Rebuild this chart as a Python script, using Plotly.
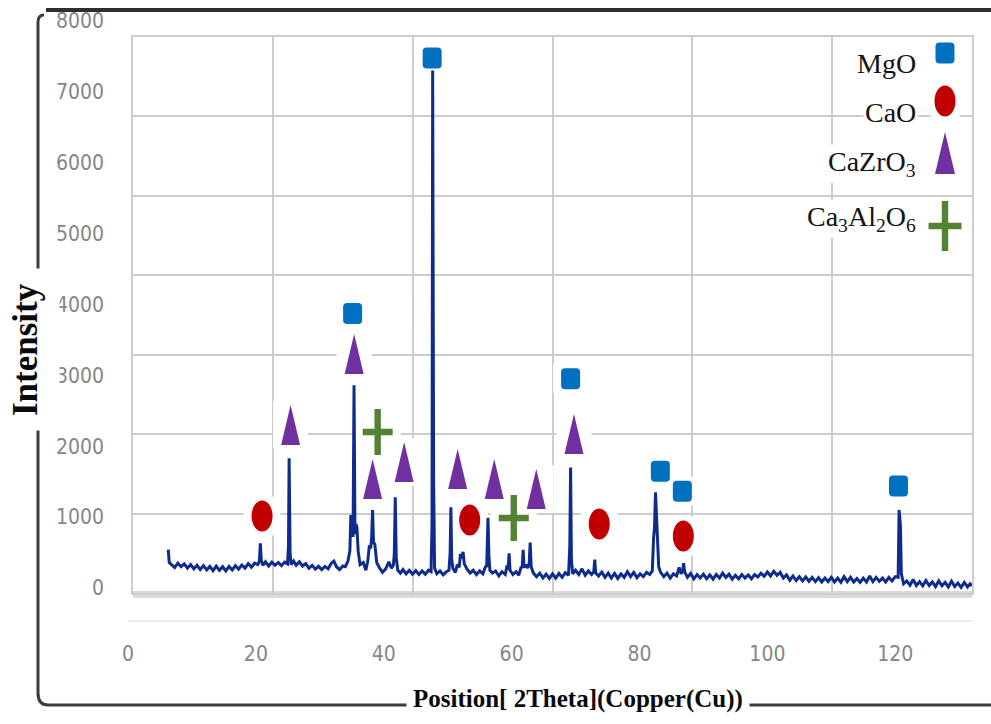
import plotly.graph_objects as go

# ------------------------------------------------------------------ data
# (2-theta, intensity)
scan_points = [
    (6.3, 540), (6.45, 360), (6.8, 330), (7.3, 290), (7.8, 350), (8.3, 300), (8.8, 340),
    (9.3, 280), (9.8, 330), (10.3, 270), (10.8, 320), (11.3, 260), (11.8, 315), (12.3, 255),
    (12.8, 305), (13.3, 245), (13.8, 310), (14.3, 250), (14.8, 300), (15.3, 240), (15.8, 305),
    (16.3, 255), (16.8, 315), (17.3, 265), (17.8, 325), (18.3, 280), (18.8, 345), (19.3, 295),
    (19.8, 350), (20.3, 330), (20.55, 380), (20.7, 630), (20.85, 390), (21.1, 320), (21.5, 370),
    (22.0, 310), (22.5, 365), (23.0, 320), (23.5, 360), (24.0, 315), (24.5, 365), (24.95, 340),
    (25.1, 600), (25.2, 1830), (25.35, 500), (25.5, 330), (25.9, 380), (26.3, 320), (26.8, 370),
    (27.3, 310), (27.8, 345), (28.3, 280), (28.8, 320), (29.3, 265), (29.8, 305), (30.3, 260),
    (30.8, 305), (31.3, 270), (31.8, 350), (32.2, 380), (32.6, 300), (33.1, 260), (33.6, 310),
    (34.0, 300), (34.4, 380), (34.7, 520), (34.85, 1030), (35.0, 900), (35.2, 720), (35.35, 2860),
    (35.5, 760), (35.65, 900), (35.8, 860), (36.0, 520), (36.3, 330), (36.8, 360), (37.2, 250),
    (37.5, 380), (37.75, 600), (37.95, 560), (38.1, 700), (38.25, 1100), (38.4, 640), (38.6, 620),
    (38.9, 360), (39.3, 290), (39.8, 220), (40.3, 270), (40.8, 370), (41.2, 280), (41.5, 320),
    (41.65, 480), (41.8, 1280), (41.95, 420), (42.2, 250), (42.6, 210), (43.0, 260), (43.5, 200),
    (44.0, 250), (44.5, 195), (45.0, 245), (45.5, 190), (46.0, 240), (46.5, 195), (47.0, 250),
    (47.4, 230), (47.55, 900), (47.65, 7300), (47.8, 1500), (47.95, 280), (48.3, 200), (48.8, 240),
    (49.3, 185), (49.8, 230), (50.2, 250), (50.38, 500), (50.5, 1140), (50.62, 420), (50.8, 280),
    (51.2, 220), (51.5, 330), (51.8, 290), (52.0, 480), (52.2, 420), (52.4, 510), (52.6, 340),
    (53.0, 270), (53.5, 210), (54.0, 250), (54.5, 190), (55.0, 240), (55.5, 200), (55.9, 300),
    (56.1, 310), (56.2, 600), (56.3, 990), (56.45, 450), (56.6, 250), (57.0, 210), (57.5, 240),
    (58.0, 170), (58.5, 230), (59.0, 190), (59.3, 320), (59.45, 260), (59.6, 490), (59.75, 250),
    (60.2, 190), (60.7, 230), (61.1, 180), (61.5, 300), (61.65, 280), (61.8, 540), (61.95, 290),
    (62.3, 330), (62.5, 280), (62.75, 350), (62.9, 640), (63.05, 300), (63.4, 210), (63.9, 160),
    (64.4, 210), (64.9, 140), (65.4, 195), (65.9, 135), (66.4, 200), (66.9, 140), (67.4, 205),
    (67.9, 150), (68.4, 215), (68.9, 180), (69.1, 600), (69.22, 1700), (69.35, 400), (69.55, 200),
    (70.0, 250), (70.5, 190), (71.0, 270), (71.5, 180), (72.0, 240), (72.5, 190), (72.85, 230),
    (73.0, 400), (73.15, 210), (73.6, 170), (74.1, 225), (74.6, 150), (75.1, 210), (75.6, 140),
    (76.1, 205), (76.6, 135), (77.1, 200), (77.6, 150), (78.1, 230), (78.6, 160), (79.1, 220),
    (79.6, 145), (80.1, 200), (80.6, 160), (81.1, 220), (81.6, 190), (82.0, 240), (82.2, 700),
    (82.35, 860), (82.5, 1350), (82.65, 1000), (82.8, 600), (83.0, 300), (83.3, 220), (83.8, 160),
    (84.3, 210), (84.8, 140), (85.3, 200), (85.8, 170), (86.2, 290), (86.5, 200), (86.75, 240),
    (86.9, 350), (87.05, 230), (87.5, 150), (88.0, 205), (88.5, 130), (89.0, 190), (89.5, 140),
    (90.0, 195), (90.5, 130), (91.0, 185), (91.5, 125), (92.0, 190), (92.5, 140), (93.0, 210),
    (93.5, 150), (94.0, 195), (94.5, 125), (95.0, 180), (95.5, 130), (96.0, 190), (96.5, 140),
    (97.0, 185), (97.5, 130), (98.0, 190), (98.5, 155), (99.0, 210), (99.5, 165), (100.0, 225),
    (100.5, 170), (101.0, 235), (101.5, 180), (102.0, 220), (102.5, 140), (103.0, 185),
    (103.5, 110), (104.0, 170), (104.5, 105), (105.0, 160), (105.5, 100), (106.0, 155),
    (106.5, 95), (107.0, 150), (107.5, 90), (108.0, 145), (108.5, 85), (109.0, 140), (109.5, 90),
    (110.0, 150), (110.5, 85), (111.0, 140), (111.5, 80), (112.0, 160), (112.5, 90), (113.0, 150),
    (113.5, 85), (114.0, 135), (114.5, 80), (115.0, 140), (115.5, 85), (116.0, 170), (116.5, 90),
    (117.0, 150), (117.5, 95), (118.0, 140), (118.5, 85), (119.0, 150), (119.5, 100), (120.0, 160),
    (120.45, 150), (120.6, 1100), (120.8, 890), (120.95, 200), (121.3, 60), (121.8, 100),
    (122.3, 40), (122.8, 120), (123.3, 35), (123.8, 90), (124.3, 30), (124.8, 105), (125.3, 35),
    (125.8, 85), (126.3, 20), (126.8, 100), (127.3, 30), (127.8, 80), (128.3, 15), (128.8, 95),
    (129.3, 20), (129.8, 70), (130.3, 10), (130.8, 80), (131.3, 15), (131.7, 60), (132.0, 30),
]
two_theta = [p[0] for p in scan_points]
intensity = [p[1] for p in scan_points]

# phase identification marks (2-theta, intensity level of the mark)
mgo_x = [35.13, 47.57, 69.22, 83.26, 86.70, 120.50]
mgo_y = [3872, 7475, 2950, 1646, 1364, 1439]
cao_x = [20.97, 53.44, 73.70, 86.85]
cao_y = [1015, 959, 903, 733]
cazro3_x = [25.43, 35.37, 38.26, 43.19, 51.56, 57.28, 63.85, 69.75]
cazro3_y = [2299, 3300, 1537, 1777, 1678, 1537, 1396, 2172]
ca3al2o6_x = [39.05, 60.33]
ca3al2o6_y = [2200, 987]

phase_names = ["MgO", "CaO", "CaZrO<sub>3</sub>", "Ca<sub>3</sub>Al<sub>2</sub>O<sub>6</sub>"]
x_ticks = [0, 20, 40, 60, 80, 100, 120]
y_ticks = [0, 1000, 2000, 3000, 4000, 5000, 6000, 7000, 8000]
x_title = "Position[ 2Theta](Copper(Cu))"
y_title = "Intensity"

# ------------------------------------------------------------------ styling
W, H = 991, 724
LINE_COLOR = "#0f2c8c"
GRID = "#cccccc"
TICK_COLOR = "#868686"
NARROW = "Liberation Sans Narrow, DejaVu Sans Condensed, Arial Narrow, sans-serif"
SERIF = "Liberation Serif, Times New Roman, serif"

COLORS = {"square": "#0070C0", "circle": "#C00000", "triangle": "#7030A0", "cross": "#548235"}
SIZES = {"square": (19, 21), "circle": (21, 31), "triangle": (19, 40), "cross": (30, 46)}


def fx(p):
    return p / W


def fy(p):
    return 1 - p / H


def glyph(kind, color, w, h, **pos):
    base = dict(xsizemode="pixel", ysizemode="pixel", fillcolor=color,
                line=dict(width=0), **pos)
    x0, x1, y0, y1 = -w / 2, w / 2, -h / 2, h / 2
    if kind == "square":
        r = 4
        path = (f"M{x0 + r},{y0} L{x1 - r},{y0} Q{x1},{y0} {x1},{y0 + r} "
                f"L{x1},{y1 - r} Q{x1},{y1} {x1 - r},{y1} L{x0 + r},{y1} "
                f"Q{x0},{y1} {x0},{y1 - r} L{x0},{y0 + r} Q{x0},{y0} {x0 + r},{y0} Z")
        return dict(type="path", path=path, **base)
    if kind == "circle":
        return dict(type="circle", x0=x0, x1=x1, y0=y0, y1=y1, **base)
    if kind == "rect":
        return dict(type="rect", x0=x0, x1=x1, y0=y0, y1=y1, **base)
    if kind == "triangle":
        path = f"M{x0},{y0} L{x1},{y0} L0,{y1} Z"
        return dict(type="path", path=path, **base)
    t = 3.2
    path = (f"M{-t},{y1} L{t},{y1} L{t},{t} L{x1},{t} L{x1},{-t} L{t},{-t} "
            f"L{t},{y0} L{-t},{y0} L{-t},{-t} L{x0},{-t} L{x0},{t} L{-t},{t} Z")
    return dict(type="path", path=path, **base)


phases = [
    (phase_names[0], mgo_x, mgo_y, "square"),
    (phase_names[1], cao_x, cao_y, "circle"),
    (phase_names[2], cazro3_x, cazro3_y, "triangle"),
    (phase_names[3], ca3al2o6_x, ca3al2o6_y, "cross"),
]

fig = go.Figure()
# empty trace for the background grid subplot
fig.add_trace(go.Scatter(x=[], y=[], xaxis="x", yaxis="y", showlegend=False))
fig.add_trace(go.Scatter(x=two_theta, y=intensity, mode="lines",
                         line=dict(color=LINE_COLOR, width=3),
                         xaxis="x2", yaxis="y2", showlegend=False, name="XRD"))

shapes = []
# frame of the figure
shapes.append(dict(type="line", xref="paper", yref="paper", x0=fx(46), x1=1, y0=fy(10), y1=fy(10),
                   line=dict(color="#2e2e2e", width=4), layer="below"))
shapes.append(dict(type="path", xref="paper", yref="paper",
                   path=f"M{fx(44)},{fy(15)} Q{fx(38)},{fy(15)} {fx(38)},{fy(22)} L{fx(38)},{fy(693)} "
                        f"Q{fx(38)},{fy(705)} {fx(48)},{fy(705)} L1,{fy(705)}",
                   line=dict(color="#3c3c3c", width=3), layer="below"))
# thick light bottom edge of plot box
shapes.append(dict(type="rect", xref="paper", yref="paper", x0=fx(133), x1=fx(972),
                   y0=fy(598), y1=fy(591), fillcolor="#dadada", line=dict(width=0), layer="below"))

# phase marks on peaks
for name, xs, ys, kind in phases:
    w, h = SIZES[kind]
    for xv, yv in zip(xs, ys):
        shapes.append(glyph("rect", "white", w + 16, h + 8, xref="x2", yref="y2",
                            xanchor=xv, yanchor=yv, layer="between"))
    for xv, yv in zip(xs, ys):
        shapes.append(glyph(kind, COLORS[kind], w, h, xref="x2", yref="y2",
                            xanchor=xv, yanchor=yv, layer="above"))

# legend (text + glyph on the right)
legend_rows = [53, 101, 153, 226]
annotations = []
for (name, xs, ys, kind), ry in zip(phases, legend_rows):
    w, h = SIZES[kind]
    if kind == "cross":
        w, h = 33, 50
    if kind == "triangle":
        w, h = 20, 42
    shapes.append(glyph("rect", "white", w + 8, h + 4, xref="paper", yref="paper",
                        xanchor=fx(945), yanchor=fy(ry), layer="above"))
    shapes.append(glyph(kind, COLORS[kind], w, h, xref="paper", yref="paper",
                        xanchor=fx(945), yanchor=fy(ry), layer="above"))

legend_text_y = [63, 112, 163, 218]
for (name, xs, ys, kind), ty in zip(phases, legend_text_y):
    annotations.append(dict(text=name, xref="paper", yref="paper", x=fx(918), y=fy(ty),
                            xanchor="right", yanchor="middle", showarrow=False,
                            bgcolor="white", borderpad=1,
                            font=dict(family=SERIF, size=28, color="#141414")))

# axis titles
annotations.append(dict(text=f"<b>{y_title}</b>", xref="paper", yref="paper", x=fx(26), y=fy(350),
                        textangle=-90, showarrow=False, bgcolor="white", borderpad=14,
                        xanchor="center", yanchor="middle",
                        font=dict(family=SERIF, size=35, color="#0a0a0a")))
annotations.append(dict(text=f"<b>{x_title}</b>", xref="paper", yref="paper", x=fx(578), y=fy(699),
                        showarrow=False, bgcolor="white", borderpad=6,
                        xanchor="center", yanchor="middle",
                        font=dict(family=SERIF, size=25, color="#0a0a0a")))

# y data axis: value 0 at 588 px, 70.9 px per 1000 counts
k = 0.0709
y2_bottom, y2_top = 593, 20.8

fig.update_layout(
    width=W, height=H, template="none",
    margin=dict(l=0, r=0, t=0, b=0),
    paper_bgcolor="white", plot_bgcolor="rgba(0,0,0,0)",
    showlegend=False,
    xaxis=dict(domain=[fx(133), fx(972)], range=[0, 6], tick0=0, dtick=1,
               showgrid=True, gridcolor=GRID, gridwidth=2, showticklabels=False,
               ticks="", zeroline=False, showline=True, mirror=True,
               linecolor=GRID, linewidth=2, anchor="y", fixedrange=True),
    yaxis=dict(domain=[fy(593), fy(37)], range=[0, 7], tick0=0, dtick=1,
               showgrid=True, gridcolor=GRID, gridwidth=2, showticklabels=False,
               ticks="", zeroline=False, showline=True, mirror=True,
               linecolor=GRID, linewidth=2, anchor="x", fixedrange=True),
    xaxis2=dict(domain=[fx(128), fx(972)], range=[0, 132], tickvals=x_ticks,
                showgrid=False, zeroline=False, anchor="free", position=fy(621),
                showline=True, linecolor="#ececec", linewidth=1.5, ticks="",
                tickfont=dict(family=NARROW, size=21, color=TICK_COLOR),
                ticklabelstandoff=14, fixedrange=True),
    yaxis2=dict(domain=[fy(y2_bottom), fy(y2_top)],
                range=[(588 - y2_bottom) / k, (588 - y2_top) / k], tickvals=y_ticks,
                showgrid=False, zeroline=False, anchor="free", position=fx(108),
                showline=False, ticks="",
                tickfont=dict(family=NARROW, size=21, color=TICK_COLOR),
                ticklabelstandoff=4, fixedrange=True),
    shapes=shapes,
    annotations=annotations,
)

fig.write_html("out.html", config={"displayModeBar": False},
               post_script="document.body.style.margin='0';")
